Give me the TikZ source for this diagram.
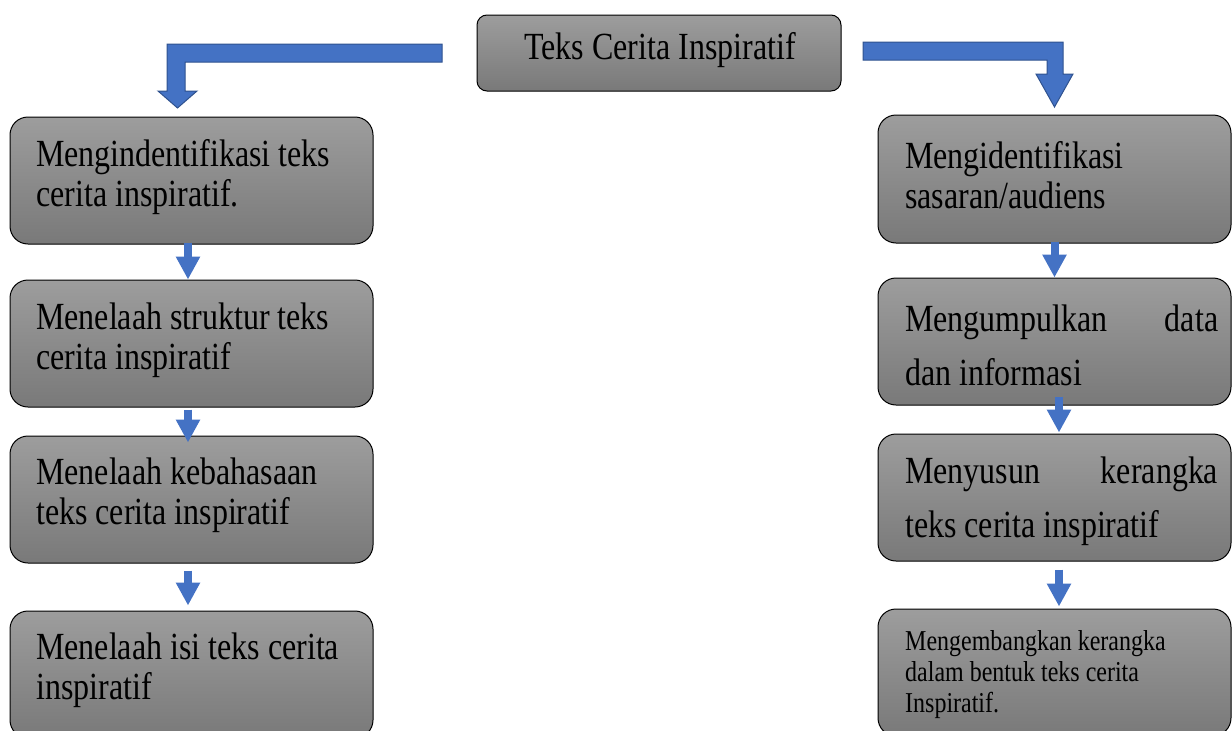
\documentclass[tikz,border=0pt]{standalone}
\usepackage{fontspec}
\setmainfont{Liberation Serif}[FakeStretch=0.833]
\usetikzlibrary{arrows.meta}
\definecolor{boxtop}{RGB}{157,157,157}
\definecolor{boxbot}{RGB}{121,121,121}
\definecolor{arrfill}{RGB}{68,114,196}
\definecolor{arredge}{RGB}{47,82,143}
\tikzset{
  card/.style={draw=black, line width=1pt, rounded corners=18pt,
    top color=boxtop, bottom color=boxbot, inner sep=0pt},
  lcard/.style={card, minimum width=363pt, minimum height=127pt},
  rcard/.style={card, minimum width=353pt, minimum height=127pt},
  txt/.style={anchor=west, inner sep=0pt, align=left,
    font=\fontsize{38.4pt}{40pt}\selectfont},
  wtxt/.style={txt, font=\fontsize{38.4pt}{54pt}\selectfont},
  stxt/.style={txt, font=\fontsize{28.8pt}{31pt}\selectfont},
  conn/.style={draw=arrfill, line width=8pt, line cap=butt,
    -{Triangle[width=23pt,length=23pt]}},
  bent/.style={fill=arrfill, draw=arredge, line width=1pt, line join=miter}
}
\begin{document}
\begin{tikzpicture}[x=1pt,y=-1pt]
\useasboundingbox (0,0) rectangle (1232,731);
\clip (0,0) rectangle (1232,731);
% top box
\node[card, rounded corners=10pt, minimum width=364pt, minimum height=76pt] (top) at (659,53) {};
\node[inner sep=0pt, font=\fontsize{38.4pt}{40pt}\selectfont] (ttop) at (660,50) {Teks Cerita Inspiratif};
% left column
\node[lcard] (L1) at (191.5,180.5) {};
\node[lcard] (L2) at (191.5,343.5) {};
\node[lcard] (L3) at (191.5,499.5) {};
\node[lcard] (L4) at (191.5,674.5) {};
% right column
\node[rcard, minimum height=128pt] (R1) at (1054.5,179) {};
\node[rcard] (R2) at (1054.5,341.5) {};
\node[rcard] (R3) at (1054.5,497.5) {};
\node[rcard] (R4) at (1054.5,672.5) {};
% texts
\node[txt] (tL1) at (36,177.5) {Mengindentifikasi teks\\cerita inspiratif.};
\node[txt] (tL2) at (36,340) {Menelaah struktur teks\\cerita inspiratif};
\node[txt] (tL3) at (36,495.5) {Menelaah kebahasaan\\teks cerita inspiratif};
\node[txt] (tL4) at (36,670.5) {Menelaah isi teks cerita\\inspiratif};
\node[txt] (tR1) at (905,175.5) {Mengidentifikasi\\sasaran/audiens};
\node[wtxt] (tR2) at (905,345.5) {\hbox to 313pt{Mengumpulkan\hfill data}\\dan informasi};
\node[wtxt] (tR3) at (905,501) {\hbox to 313pt{Menyusun\hfill kerangka}\\teks cerita inspiratif};
\node[stxt] (tR4) at (905,674.5) {Mengembangkan kerangka\\dalam bentuk teks cerita\\Inspiratif.};
% bent arrows from the top box
\draw[bent] (442,44) -- (167,44) -- (167,91) -- (158,91) -- (177.5,108) -- (197,91) -- (185,91) -- (185,62) -- (442,62) -- cycle;
\draw[bent] (863,42) -- (1063,42) -- (1063,74) -- (1073,74) -- (1054.5,107) -- (1036,74) -- (1047,74) -- (1047,60) -- (863,60) -- cycle;
% small arrows
\draw[conn] ([xshift=-3.5pt,yshift=2pt]L1.south) -- ([xshift=-3.5pt]L2.north);
\draw[conn] ([xshift=-3.5pt,yshift=-2pt]L2.south) -- ([xshift=-3.5pt,yshift=-7pt]L3.north);
\draw[conn] ([xshift=-3.5pt,yshift=-7pt]L3.south) -- ([xshift=-3.5pt,yshift=5pt]L4.north);
\draw[conn] ([yshift=2pt]R1.south) -- (R2.north);
\draw[conn] ([xshift=4.5pt,yshift=9pt]R2.south) -- ([xshift=4.5pt,yshift=1pt]R3.north);
\draw[conn] ([xshift=4.5pt,yshift=-8pt]R3.south) -- ([xshift=4.5pt,yshift=2pt]R4.north);
\end{tikzpicture}
\end{document}
